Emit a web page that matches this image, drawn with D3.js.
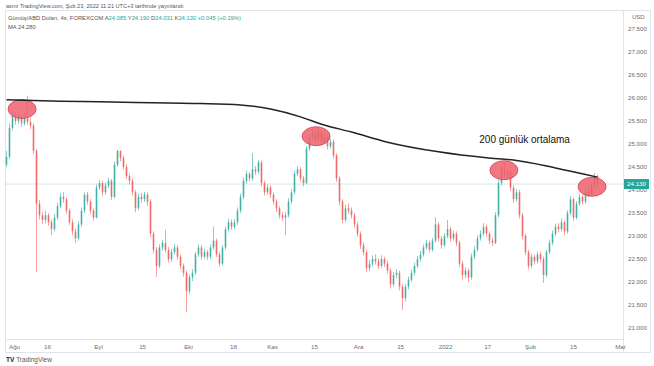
<!DOCTYPE html>
<html><head><meta charset="utf-8">
<script src="https://cdn.jsdelivr.net/npm/d3@7/dist/d3.min.js"></script>
<style>body{margin:0;background:#fff}svg{display:block}text{font-family:"Liberation Sans",Arial,sans-serif}</style>
</head><body>
<script>
// ---- data ----
const firstOpen = 24.55;
const closes = [
24.72,25.35,25.62,25.50,25.58,25.45,25.55,25.48,25.40,24.85,
23.70,23.45,23.35,23.45,23.30,23.15,23.40,23.65,23.85,23.80,
23.55,23.30,23.10,22.95,23.25,23.55,23.90,23.75,23.55,23.40,
24.05,24.15,23.95,24.10,24.20,23.85,24.55,24.85,24.70,24.50,
24.30,24.20,23.95,23.60,23.85,23.80,23.90,23.75,23.05,22.70,
22.35,22.75,22.85,22.70,22.50,22.65,22.75,22.55,22.35,22.20,
21.80,22.10,22.20,22.60,22.75,22.55,22.65,22.55,22.75,22.90,
22.60,22.40,22.75,23.15,23.30,23.20,23.30,23.55,23.85,24.20,
24.35,24.25,24.45,24.40,24.60,24.15,23.95,24.05,23.90,23.75,
23.60,23.45,23.40,23.45,23.75,23.95,24.35,24.45,24.25,24.15,
24.90,25.15,25.25,25.10,25.25,25.05,25.15,24.95,25.05,24.75,
24.25,23.75,23.35,23.60,23.55,23.45,23.25,23.05,22.80,22.65,
22.30,22.40,22.50,22.45,22.35,22.50,22.40,22.25,21.95,22.15,
22.20,21.90,21.65,21.90,22.05,22.20,22.35,22.50,22.60,22.75,
22.85,22.70,22.90,23.25,22.95,22.80,23.00,23.15,22.95,23.05,
22.85,22.40,22.15,22.25,22.10,22.55,22.70,22.95,23.05,23.20,
23.05,22.90,22.85,23.45,24.15,24.45,24.30,24.40,24.05,23.80,
23.95,23.45,23.00,22.65,22.35,22.55,22.45,22.60,22.50,22.15,
22.65,22.85,23.05,23.20,23.15,23.30,23.10,23.50,23.80,23.40,
23.70,23.85,23.75,23.95,23.90,24.10,24.30,24.13];
const highs = [
24.85,25.45,25.72,25.68,25.66,25.63,25.64,26.05,25.56,25.45,
24.90,23.78,23.52,23.55,23.50,23.36,23.48,23.72,23.93,23.95,
23.84,23.60,23.36,23.16,23.32,23.62,23.95,23.96,23.80,23.60,
24.12,24.22,24.20,24.16,24.26,24.24,24.62,24.87,24.86,24.75,
24.56,24.36,24.25,24.00,23.92,23.94,23.96,23.95,23.80,23.10,
22.76,22.82,22.92,23.13,22.76,22.72,22.82,22.80,22.60,22.40,
22.25,22.16,22.28,22.66,22.82,22.80,22.72,22.70,22.82,23.20,
22.94,22.66,22.80,23.20,23.38,23.36,23.37,23.62,23.92,24.27,
24.42,24.40,24.80,24.52,24.66,24.64,24.20,24.12,24.10,23.95,
23.80,23.65,23.52,23.52,23.82,24.02,24.42,24.52,24.50,24.30,
24.96,25.22,25.33,25.30,25.37,25.30,25.22,25.20,25.12,25.10,
24.80,24.30,23.80,23.68,23.70,23.62,23.50,23.30,23.10,22.86,
22.70,22.48,22.58,22.60,22.52,22.58,22.55,22.46,22.30,22.22,
22.28,22.25,21.95,21.96,22.12,22.26,22.42,22.56,22.68,22.82,
22.92,22.90,22.96,23.41,23.30,23.00,23.06,23.35,23.20,23.12,
23.10,22.90,22.46,22.32,22.30,22.62,22.78,23.02,23.12,23.28,
23.25,23.10,22.96,23.52,24.22,24.52,24.59,24.48,24.44,24.10,
24.02,24.00,23.50,23.05,22.70,22.62,22.60,22.66,22.66,22.55,
22.70,22.92,23.12,23.27,23.28,23.38,23.34,23.56,23.87,23.84,
23.76,23.92,23.90,24.02,24.05,24.17,24.37,24.33];
const lows = [
24.50,24.68,25.30,25.42,25.44,25.38,25.40,25.42,25.32,24.78,
22.22,23.36,23.26,23.28,23.22,23.02,23.10,23.35,23.60,23.72,
23.48,23.24,23.02,22.85,22.90,23.20,23.50,23.68,23.48,23.33,
23.38,24.00,23.88,23.90,24.04,23.78,23.82,24.50,24.62,24.44,
24.24,24.12,23.88,23.52,23.56,23.72,23.74,23.66,22.98,22.62,
22.11,22.30,22.68,22.64,22.42,22.44,22.60,22.48,22.28,22.12,
21.35,21.74,22.02,22.16,22.54,22.48,22.50,22.48,22.50,22.70,
22.54,22.33,22.36,22.70,23.10,23.13,23.15,23.25,23.50,23.80,
24.14,24.18,24.20,24.33,24.35,24.08,23.88,23.90,23.82,23.68,
23.52,23.38,23.33,23.02,23.40,23.70,23.90,24.30,24.18,24.08,
24.12,24.85,25.10,25.02,25.05,24.98,25.00,24.88,24.90,24.68,
24.18,23.66,23.28,23.30,23.48,23.38,23.18,22.98,22.72,22.58,
22.22,22.24,22.34,22.38,22.28,22.30,22.33,22.18,21.86,21.90,
22.08,21.82,21.39,21.58,21.84,22.00,22.14,22.30,22.44,22.55,
22.70,22.64,22.66,22.86,22.88,22.72,22.76,22.95,22.88,22.90,
22.78,22.32,22.06,22.08,22.00,22.05,22.50,22.66,22.90,23.00,
22.98,22.82,22.78,22.82,23.40,24.10,24.24,24.25,23.98,23.72,
23.75,23.38,22.92,22.58,22.28,22.30,22.38,22.40,22.42,21.98,
22.10,22.60,22.80,23.00,23.08,23.10,23.02,23.05,23.45,23.33,
23.36,23.65,23.68,23.70,23.84,23.86,24.05,24.03];
const maBars   = [0, 18, 31, 54, 65, 78, 88, 98, 105, 115, 127, 144, 160, 169, 183, 197];
const maValues = [25.96, 25.93, 25.92, 25.89, 25.88, 25.85, 25.76, 25.59, 25.43, 25.26, 25.04, 24.83, 24.70, 24.65, 24.48, 24.28];
const priceTicks = [21.0, 21.5, 22.0, 22.5, 23.0, 23.5, 24.0, 24.5, 25.0, 25.5, 26.0, 26.5, 27.0, 27.5];
const timeLabels = ["Ağu","16","Eyl","15","Eki","18","Kas","15","Ara","15","2022","17","Şub","15","Mar"];
const timeBars   = [2.5, 13.5, 30.5, 45.2, 60.5, 75.5, 88.5, 102.5, 117.2, 131.2, 146.2, 160.2, 174.5, 188.8, 204.5];
const lastPrice = 24.130;
const circleBars   = [5.2, 103.2, 165.8, 195.2];
const circlePrices = [25.76, 25.17, 24.43, 24.07];
const noteBar = 157.6, notePrice = 25.09, noteText = "200 günlük ortalama";

// ---- drawing ----
const W = 654, H = 366;
const svg = d3.select("body").append("svg").attr("width", W).attr("height", H);
const x = d3.scaleLinear().domain([-0.5, 205.5]).range([5, 623]);
const y = d3.scaleLinear().domain([21, 27.5]).range([328, 29]);
const up = "#26a69a", down = "#ef5350";

// frame
svg.append("text").attr("x", 6).attr("y", 7.5).attr("font-size", 5.6).attr("fill", "#555")
  .text("asmr TradingView.com, Şub 23, 2022 11:21 UTC+3 tarihinde yayınlandı");
const frame = svg.append("g").attr("stroke", "#e0e3eb").attr("fill", "none");
frame.append("rect").attr("x", 5.5).attr("y", 10.5).attr("width", 645).attr("height", 342);
frame.append("line").attr("x1", 623.5).attr("x2", 623.5).attr("y1", 10.5).attr("y2", 352.5);
frame.append("line").attr("x1", 5.5).attr("x2", 623.5).attr("y1", 339.5).attr("y2", 339.5);

// last price line
svg.append("line").attr("x1", 5.5).attr("x2", 623).attr("y1", y(lastPrice)).attr("y2", y(lastPrice))
  .attr("stroke", "#26a69a").attr("stroke-opacity", 0.45).attr("stroke-dasharray", "1,1");

// candles
const data = closes.map((c, i) => ({i, o: i === 0 ? firstOpen : closes[i - 1], c, h: highs[i], l: lows[i]}));
const cg = svg.append("g");
cg.selectAll("line").data(data).join("line")
  .attr("x1", d => x(d.i)).attr("x2", d => x(d.i))
  .attr("y1", d => y(d.h)).attr("y2", d => y(d.l))
  .attr("stroke", d => d.c >= d.o ? up : down).attr("stroke-width", 0.8).attr("stroke-opacity", 0.7);
cg.selectAll("rect").data(data).join("rect")
  .attr("x", d => x(d.i) - 0.85).attr("width", 1.7)
  .attr("y", d => y(Math.max(d.o, d.c)))
  .attr("height", d => Math.max(0.8, Math.abs(y(d.o) - y(d.c))))
  .attr("fill", d => d.c >= d.o ? up : down).attr("fill-opacity", 0.72);

// highlight ellipses
svg.append("g").selectAll("ellipse").data(circleBars).join("ellipse")
  .attr("cx", (b) => x(b)).attr("cy", (b, k) => y(circlePrices[k]))
  .attr("rx", 14).attr("ry", 9.5)
  .attr("fill", "#ef5f6c").attr("fill-opacity", 0.85)
  .attr("stroke", "#d9404e").attr("stroke-width", 0.8);

// moving average
const ma = maBars.map((b, k) => [b, maValues[k]]);
svg.append("path").datum(ma)
  .attr("d", d3.line().x(d => x(d[0])).y(d => y(d[1])).curve(d3.curveMonotoneX))
  .attr("fill", "none").attr("stroke", "#222").attr("stroke-width", 1.5);

// note
svg.append("text").attr("x", x(noteBar)).attr("y", y(notePrice) + 3.5)
  .attr("font-size", 10).attr("font-weight", 500).attr("fill", "#111").text(noteText);

// price axis
const ya = svg.append("g").attr("transform", "translate(623,0)")
  .call(d3.axisRight(y).tickValues(priceTicks).tickSize(0).tickPadding(5).tickFormat(d3.format(".3f")));
ya.select(".domain").remove();
ya.selectAll("text").attr("font-size", 6.2).attr("fill", "#6a6d78").attr("font-family", "Liberation Sans, Arial");
svg.append("text").attr("x", 632).attr("y", 19).attr("font-size", 6).attr("fill", "#6a6d78").text("USD");

// last price label
svg.append("rect").attr("x", 624).attr("y", y(lastPrice) - 5).attr("width", 25).attr("height", 10).attr("fill", "#26a69a");
svg.append("text").attr("x", 636.5).attr("y", y(lastPrice) + 2.2).attr("text-anchor", "middle")
  .attr("font-size", 6.2).attr("fill", "#fff").text(d3.format(".3f")(lastPrice));

// time axis
const xa = svg.append("g").attr("transform", "translate(0,339)")
  .call(d3.axisBottom(x).tickValues(timeBars).tickSize(0).tickPadding(6).tickFormat((d, k) => timeLabels[k]));
xa.select(".domain").remove();
xa.selectAll("text").attr("font-size", 6.2).attr("fill", "#6a6d78").attr("font-family", "Liberation Sans, Arial");

// legend
const lg = svg.append("text").attr("x", 8).attr("y", 19.5).attr("font-size", 5.8).attr("fill", "#555");
lg.append("tspan").text("Gümüş/ABD Doları, 4s, FOREXCOM  ");
[["A","24.085"],["Y","24.190"],["D","24.031"],["K","24.130"]].forEach(([k, v]) => {
  lg.append("tspan").attr("fill", "#555").text(k);
  lg.append("tspan").attr("fill", "#26a69a").text(v + "  ");
});
lg.append("tspan").attr("fill", "#26a69a").text("+0.045 (+0.19%)");
svg.append("text").attr("x", 8).attr("y", 29).attr("font-size", 5.8).attr("fill", "#555").text("MA  24.280");

// logo
const logo = svg.append("text").attr("x", 6).attr("y", 362).attr("font-size", 6.5).attr("fill", "#131722");
logo.append("tspan").attr("font-weight", "bold").text("TV ");
logo.append("tspan").attr("fill", "#555").text("TradingView");
</script>
</body></html>
